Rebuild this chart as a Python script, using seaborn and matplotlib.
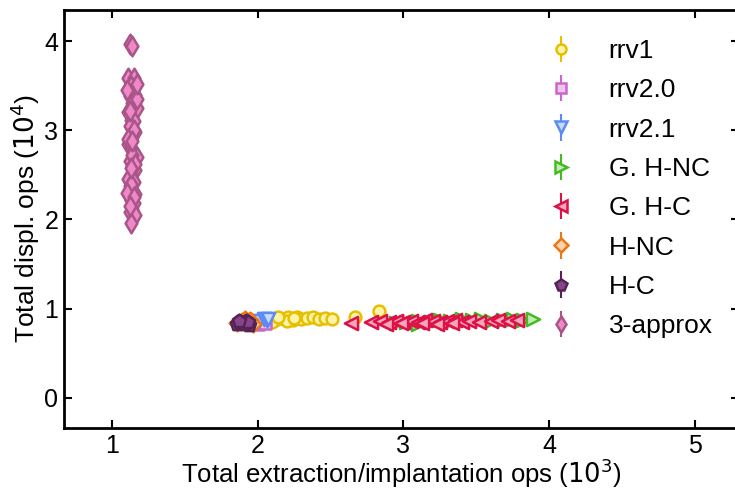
import numpy as np
import pandas as pd
import matplotlib
matplotlib.use("Agg")
import matplotlib.pyplot as plt
import seaborn as sns

# ---- data (x in 10^3, y in 10^4) ----
series_names = ["rrv1", "rrv2.0", "rrv2.1", "G. H-NC", "G. H-C", "H-NC", "H-C", "3-approx"]

rrv1_x = [2.06, 2.09, 2.12, 2.15, 2.18, 2.21, 2.24, 2.27, 2.30, 2.34, 2.38, 2.42, 2.46, 2.51, 2.67, 2.83, 2.10, 2.20, 2.14, 2.25]
rrv1_y = [0.86, 0.88, 0.87, 0.89, 0.88, 0.90, 0.87, 0.91, 0.88, 0.89, 0.90, 0.88, 0.89, 0.88, 0.91, 0.97, 0.85, 0.86, 0.90, 0.89]

rrv20_x = [2.00, 2.03, 2.05]
rrv20_y = [0.83, 0.85, 0.84]

rrv21_x = [2.01, 2.04, 2.06, 2.07]
rrv21_y = [0.86, 0.88, 0.87, 0.88]

ghnc_x = [2.95, 3.02, 3.10, 3.18, 3.25, 3.32, 3.40, 3.47, 3.53, 3.60, 3.68, 3.75, 3.82, 3.89, 3.10, 3.30]
ghnc_y = [0.84, 0.85, 0.86, 0.85, 0.87, 0.86, 0.88, 0.87, 0.88, 0.86, 0.87, 0.88, 0.87, 0.88, 0.83, 0.84]

ghc_x = [2.64, 2.78, 2.84, 2.90, 2.95, 3.00, 3.05, 3.10, 3.15, 3.20, 3.25, 3.30, 3.35, 3.40, 3.45, 3.52, 3.60, 3.65, 3.72, 3.78, 2.88, 2.98, 3.13, 3.23, 3.33]
ghc_y = [0.84, 0.85, 0.86, 0.85, 0.86, 0.85, 0.86, 0.85, 0.87, 0.86, 0.85, 0.86, 0.87, 0.85, 0.86, 0.85, 0.86, 0.87, 0.86, 0.87, 0.83, 0.84, 0.84, 0.83, 0.84]

hnc_x = [1.86, 1.89, 1.92, 1.95, 1.97, 1.91]
hnc_y = [0.84, 0.86, 0.85, 0.87, 0.83, 0.88]

hc_x = [1.86, 1.88, 1.90, 1.92, 1.94, 1.91, 1.93, 1.87]
hc_y = [0.83, 0.85, 0.84, 0.86, 0.82, 0.83, 0.85, 0.86]

approx_x = [1.12, 1.14, 1.11, 1.15, 1.13, 1.16, 1.12, 1.14, 1.17, 1.11, 1.13, 1.15, 1.12, 1.16, 1.14, 1.11,
            1.13, 1.15, 1.17, 1.12, 1.14, 1.16, 1.13, 1.11, 1.15, 1.12, 1.14, 1.16, 1.13, 1.15, 1.14, 1.12,
            1.16, 1.13, 1.10, 1.17, 1.12, 1.15, 1.11, 1.14, 1.16, 1.13, 1.10, 1.15, 1.12, 1.17, 1.14, 1.13]
approx_y = [3.97, 3.95, 3.58, 3.58, 3.50, 3.40, 3.38, 3.30, 3.25, 3.20, 3.12, 3.10, 3.05, 2.98, 2.92, 2.85,
            2.80, 2.75, 2.70, 2.65, 2.60, 2.55, 2.50, 2.45, 2.42, 2.38, 2.32, 2.28, 2.22, 2.18, 2.12, 2.08,
            2.05, 1.96, 3.45, 3.35, 3.22, 3.00, 2.90, 2.72, 2.62, 2.40, 2.30, 2.25, 2.15, 3.52, 2.88, 2.58]

xs = [rrv1_x, rrv20_x, rrv21_x, ghnc_x, ghc_x, hnc_x, hc_x, approx_x]
ys = [rrv1_y, rrv20_y, rrv21_y, ghnc_y, ghc_y, hnc_y, hc_y, approx_y]

edge_colors = ["#e6c000", "#cc66cc", "#5b8cf5", "#44bb22", "#dd1148", "#ee7711", "#552255", "#aa5588"]
face_colors = ["#fff3a8", "#ecc8ec", "#c9d9fb", "#c4eab5", "#f4a6bb", "#fbd2b0", "#884488", "#ee88c8"]
markers = ["o", "s", "v", ">", "<", "D", "p", "d"]
sizes = [8.5, 8, 9.5, 9.5, 9.5, 8, 10, 10]

sns.set_style("ticks")
plt.rcParams["font.family"] = ["Liberation Sans", "DejaVu Sans"]
plt.rcParams["text.color"] = "black"
plt.rcParams["axes.labelcolor"] = "black"
plt.rcParams["xtick.color"] = "black"
plt.rcParams["ytick.color"] = "black"
plt.rcParams["axes.edgecolor"] = "black"

fig = plt.figure(figsize=(7.35, 4.92), dpi=100)
ax = fig.add_axes([0.087, 0.13, 0.918, 0.85])

for name, x, y, ec, fc, m, s in zip(series_names, xs, ys, edge_colors, face_colors, markers, sizes):
    df = pd.DataFrame({"x": x, "y": y})
    sns.scatterplot(data=df, x="x", y="y", ax=ax, marker=m, s=s ** 2,
                    color=fc, edgecolor=ec, linewidth=1.8, legend=False, zorder=3)

# legend handles (errorbar-style)
handles = []
for name, ec, fc, m, s in zip(series_names, edge_colors, face_colors, markers, sizes):
    h = ax.errorbar([np.nan], [np.nan], yerr=[1], fmt=m, color=ec, mfc=fc, mec=ec,
                    mew=1.8, ms=s * 0.85, elinewidth=1.5, label=name)
    handles.append(h)

ax.legend(handles=handles, labels=series_names, loc="upper right", bbox_to_anchor=(0.985, 0.968),
          frameon=False, fontsize=19, labelspacing=0.58, handletextpad=1.3, handlelength=1.0,
          borderaxespad=0.2)

ax.set_xlim(0.67, 5.30)
ax.set_ylim(-0.34, 4.35)
ax.set_xticks([1, 2, 3, 4, 5])
ax.set_yticks([0, 1, 2, 3, 4])
ax.tick_params(direction="in", top=True, right=True, length=6, width=1.5, labelsize=18, pad=4)
for sp in ax.spines.values():
    sp.set_linewidth(2)
ax.set_xlabel("Total extraction/implantation ops ($10^3$)", fontsize=18.5, labelpad=-1)
ax.set_ylabel("Total displ. ops ($10^4$)", fontsize=19, labelpad=2)

fig.savefig("out.png", dpi=100)
